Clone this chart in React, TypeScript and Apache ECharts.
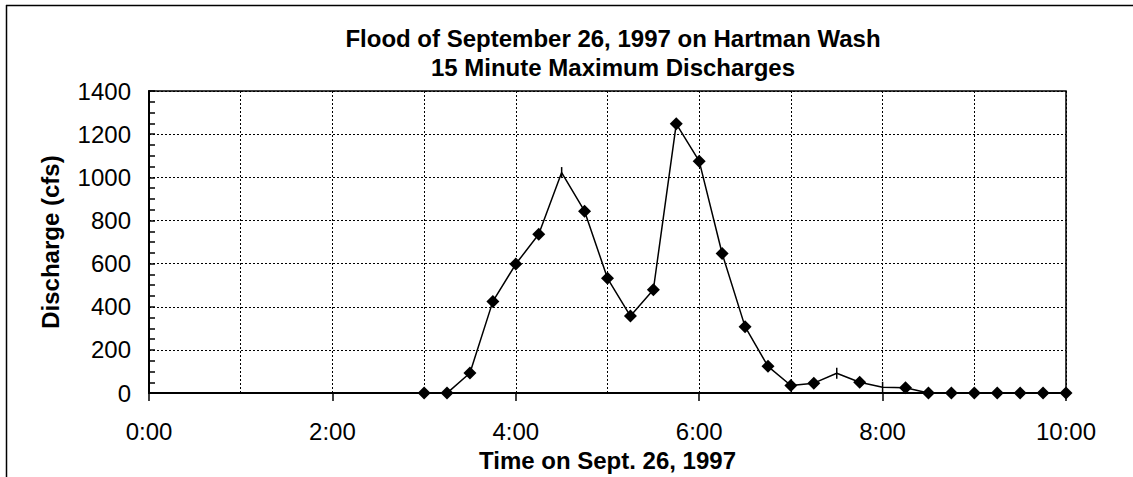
import React, { useEffect, useRef } from "react";
import * as echarts from "echarts";

const titleLines = ["Flood of September 26, 1997 on Hartman Wash", "15 Minute Maximum Discharges"];
const xAxisTitle = "Time on Sept. 26, 1997";
const yAxisTitle = "Discharge (cfs)";

const times = [
  "3:00", "3:15", "3:30", "3:45", "4:00", "4:15", "4:30", "4:45",
  "5:00", "5:15", "5:30", "5:45", "6:00", "6:15", "6:30", "6:45",
  "7:00", "7:15", "7:30", "7:45", "8:00", "8:15", "8:30", "8:45",
  "9:00", "9:15", "9:30", "9:45", "10:00",
];
const discharge = [
  0, 0, 93, 425, 598, 736, 1022, 843,
  532, 357, 479, 1248, 1075, 647, 308, 124,
  35, 46, 92, 50, 27, 25, 0, 0,
  0, 0, 0, 0, 0,
];
// points drawn with a short vertical dash instead of a diamond
const dashMarkerTimes = ["4:30", "7:30", "8:00"];

const xTickHours = [0, 2, 4, 6, 8, 10];
const yTicks = [0, 200, 400, 600, 800, 1000, 1200, 1400];

const toHours = (t: string) => {
  const [h, m] = t.split(":").map(Number);
  return h + m / 60;
};

const FONT = 'Arial, "Liberation Sans", sans-serif';

export default function App() {
  const ref = useRef<HTMLDivElement>(null);
  useEffect(() => {
    if (!ref.current) return;
    const chart = echarts.init(ref.current, undefined, { renderer: "svg" });
    const data = times.map((t, i) => {
      const item: any = { value: [toHours(t), discharge[i]] };
      if (dashMarkerTimes.includes(t)) {
        item.symbol = "rect";
        item.symbolSize = [1.5, 11];
      }
      return item;
    });
    const gridLine = { show: true, lineStyle: { color: "#000", width: 1, type: [2, 2] as any } };
    chart.setOption({
      animation: false,
      backgroundColor: "#fff",
      textStyle: { fontFamily: FONT },
      title: {
        text: titleLines.join("\n"),
        left: 608,
        top: 19,
        textAlign: "center",
        textStyle: { fontFamily: FONT, fontSize: 24, fontWeight: "bold", color: "#000", lineHeight: 29 },
      },
      graphic: [
        { type: "line", shape: { x1: 6, y1: 5.5, x2: 1140, y2: 5.5 }, style: { stroke: "#000", lineWidth: 1.5 } },
        { type: "line", shape: { x1: 6.5, y1: 5, x2: 6.5, y2: 480 }, style: { stroke: "#000", lineWidth: 1.5 } },
      ],
      grid: {
        left: 149,
        top: 91,
        right: 67,
        bottom: 81,
        show: true,
        borderColor: "#000",
        borderWidth: 1.5,
        backgroundColor: "transparent",
      },
      xAxis: {
        type: "value",
        min: xTickHours[0],
        max: xTickHours[xTickHours.length - 1],
        interval: 2,
        name: xAxisTitle,
        nameLocation: "middle",
        nameGap: 50,
        nameTextStyle: { fontFamily: FONT, fontSize: 24, fontWeight: "bold", color: "#000" },
        axisLine: { show: true, lineStyle: { color: "#000", width: 2 } },
        axisTick: { show: true, inside: false, length: 8, lineStyle: { color: "#000", width: 1.5 } },
        axisLabel: {
          fontFamily: FONT,
          fontSize: 24,
          color: "#000",
          margin: 26,
          formatter: (v: number) => `${v}:00`,
        },
        splitLine: gridLine,
        minorTick: { show: false, splitNumber: 2 },
        minorSplitLine: gridLine,
      },
      yAxis: {
        type: "value",
        min: yTicks[0],
        max: yTicks[yTicks.length - 1],
        interval: 200,
        name: yAxisTitle,
        nameLocation: "middle",
        nameRotate: 90,
        nameGap: 87,
        nameTextStyle: { fontFamily: FONT, fontSize: 24, fontWeight: "bold", color: "#000" },
        axisLine: { show: true, lineStyle: { color: "#000", width: 2 } },
        axisTick: { show: true, inside: true, length: 6, lineStyle: { color: "#000", width: 1.5 } },
        minorTick: { show: true, splitNumber: 4, length: 6, lineStyle: { color: "#000", width: 1.5 } },
        axisLabel: {
          fontFamily: FONT,
          fontSize: 24,
          color: "#000",
          margin: 18,
          formatter: (v: number) => String(v),
        },
        splitLine: gridLine,
      },
      series: [
        {
          type: "line",
          data,
          symbol: "diamond",
          symbolSize: 13,
          showSymbol: true,
          itemStyle: { color: "#000" },
          lineStyle: { color: "#000", width: 1.5 },
          z: 5,
        },
      ],
    });
    return () => chart.dispose();
  }, []);
  return (
    <div
      ref={ref}
      style={{ position: "fixed", left: 0, top: 0, width: 1133, height: 477, background: "#fff" }}
    />
  );
}
